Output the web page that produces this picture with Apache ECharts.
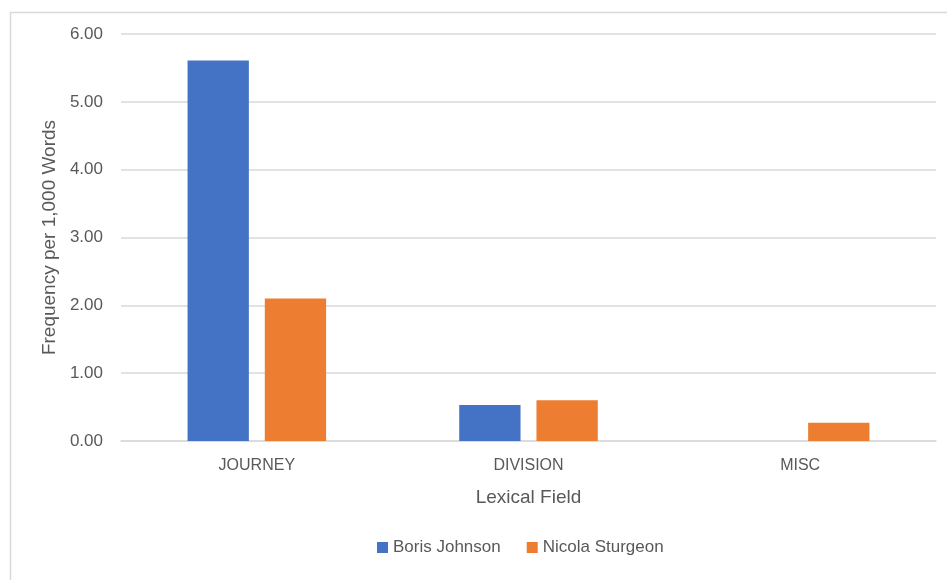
<!DOCTYPE html>
<html>
<head>
<meta charset="utf-8">
<script src="https://cdn.jsdelivr.net/npm/echarts@6/dist/echarts.min.js"></script>
<style>html,body{margin:0;padding:0;background:#fff}#c{width:947px;height:580px}</style>
</head>
<body>
<div id="c"></div>
<script>
var categories = ['JOURNEY', 'DIVISION', 'MISC'];
var borisJohnson = [5.61, 0.53, 0];
var nicolaSturgeon = [2.10, 0.60, 0.27];
var yTicks = [0, 1, 2, 3, 4, 5, 6];

var FONT = '"Liberation Sans", "DejaVu Sans", sans-serif';
var TXT = '#595959';
var chart = echarts.init(document.getElementById('c'), null, {renderer: 'canvas'});
chart.setOption({
  animation: false,
  backgroundColor: '#fff',
  graphic: [{
    type: 'rect', left: 8, top: 10, silent: true,
    shape: {x: 0, y: 0, width: 1200, height: 1200},
    style: {fill: 'none', stroke: '#d9d9d9', lineWidth: 1.5}
  }],
  grid: {left: 121, right: 11, top: 34, bottom: 139, containLabel: false},
  legend: {
    bottom: 19, left: 372, itemWidth: 11, itemHeight: 11, itemGap: 26,
    icon: 'rect',
    textStyle: {color: TXT, fontSize: 17, fontFamily: FONT},
    data: ['Boris Johnson', 'Nicola Sturgeon']
  },
  xAxis: {
    type: 'category', data: categories,
    name: 'Lexical Field', nameLocation: 'middle', nameGap: 47,
    nameTextStyle: {color: TXT, fontSize: 19, fontFamily: FONT},
    axisLine: {lineStyle: {color: '#d9d9d9', width: 1.5}},
    axisTick: {show: false},
    axisLabel: {color: TXT, fontSize: 16, fontFamily: FONT, margin: 17}
  },
  yAxis: {
    type: 'value', min: yTicks[0], max: yTicks[yTicks.length - 1], interval: 1,
    name: 'Frequency per 1,000 Words', nameLocation: 'middle', nameGap: 61,
    nameTextStyle: {color: TXT, fontSize: 19, fontFamily: FONT},
    axisLine: {show: false}, axisTick: {show: false},
    splitLine: {lineStyle: {color: '#d9d9d9', width: 1.5}},
    axisLabel: {color: TXT, fontSize: 17, fontFamily: FONT, margin: 18,
      formatter: function (v) { return v.toFixed(2); }}
  },
  series: [
    {name: 'Boris Johnson', type: 'bar', data: borisJohnson, barGap: '26%', barCategoryGap: '49%',
     itemStyle: {color: '#4472C4'}},
    {name: 'Nicola Sturgeon', type: 'bar', data: nicolaSturgeon, barGap: '26%', barCategoryGap: '49%',
     itemStyle: {color: '#ED7D31'}}
  ]
});
</script>
</body>
</html>
